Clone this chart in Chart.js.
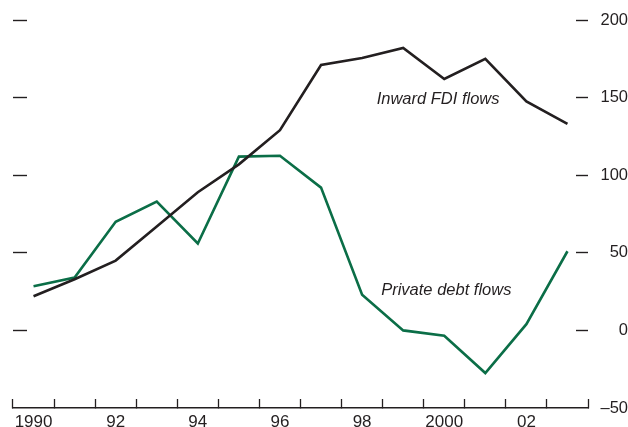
<!DOCTYPE html>
<html>
<head>
<meta charset="utf-8">
<script src="https://cdn.jsdelivr.net/npm/chart.js@4/dist/chart.umd.min.js"></script>
<style>
  html, body { margin: 0; padding: 0; background: #ffffff; }
  #wrap { width: 628px; height: 427px; position: relative; }
</style>
</head>
<body>
<div id="wrap"><canvas id="chart" width="628" height="427"></canvas></div>
<script>
// Years on the horizontal axis
const years = [1990, 1991, 1992, 1993, 1994, 1995, 1996, 1997, 1998, 1999, 2000, 2001, 2002, 2003];

// Inward foreign direct investment flows
const fdiFlows = [22, 33, 45, 67, 89, 107, 129, 171, 175.5, 182, 162, 175, 147.5, 133];

// Private debt flows
const debtFlows = [28.5, 34, 70, 83, 56, 112, 112.5, 92, 23, 0, -3.5, -27.5, 4, 51];

// Value axis ticks
const valueTicks = [-50, 0, 50, 100, 150, 200];

const INK = '#231f20';
const GREEN = '#0b6e47';
const FONT = '"Liberation Sans", Arial, Helvetica, sans-serif';

// Short year labels: full year at 1990 and 2000, two digits otherwise, odd years blank
function yearLabel(y) {
  if (y % 2 !== 0) return '';
  if (y === 1990 || y === 2000) return String(y);
  return String(y % 100).padStart(2, '0');
}

// In-plot series captions, placed in data coordinates
const captions = [
  { text: 'Inward FDI flows', x: 9.85, y: 149 },
  { text: 'Private debt flows', x: 10.05, y: 26 }
];

const captionPlugin = {
  id: 'captions',
  afterDatasetsDraw(chart) {
    const { ctx, scales } = chart;
    ctx.save();
    ctx.font = 'italic 16.5px ' + FONT;
    ctx.fillStyle = INK;
    ctx.textAlign = 'center';
    ctx.textBaseline = 'middle';
    captions.forEach(c => {
      ctx.fillText(c.text, scales.x.getPixelForValue(c.x), scales.y.getPixelForValue(c.y));
    });
    ctx.restore();
  }
};

const hideBottomTick = c => (c.tick && c.tick.value === -50) ? 'rgba(0,0,0,0)' : INK;

// Scales here take no extra room for overhanging labels
function noScalePadding(s) {
  s.paddingTop = 0; s.paddingBottom = 0; s.paddingLeft = 0; s.paddingRight = 0;
}

new Chart(document.getElementById('chart'), {
  type: 'line',
  data: {
    labels: years.map(yearLabel),
    datasets: [
      {
        label: 'Inward FDI flows',
        data: fdiFlows,
        borderColor: INK,
        borderWidth: 2.6,
        pointRadius: 0,
        tension: 0,
        yAxisID: 'y'
      },
      {
        label: 'Private debt flows',
        data: debtFlows,
        borderColor: GREEN,
        borderWidth: 2.6,
        pointRadius: 0,
        tension: 0,
        yAxisID: 'y'
      }
    ]
  },
  options: {
    responsive: false,
    animation: false,
    devicePixelRatio: 1,
    layout: { autoPadding: false, padding: { left: 13, top: 20, right: 0, bottom: 0 } },
    plugins: { legend: { display: false }, tooltip: { enabled: false } },
    scales: {
      x: {
        type: 'category',
        offset: true,
        position: 'bottom',
        grid: { offset: true, drawOnChartArea: false, drawTicks: true, tickLength: -9, tickColor: INK, tickWidth: 1.3 },
        border: { display: true, color: INK, width: 1.4 },
        ticks: { autoSkip: false, maxRotation: 0, color: INK, padding: 13, font: { family: FONT, size: 17 } },
        afterFit(s) { s.height = 19; noScalePadding(s); }
      },
      yLeft: {
        type: 'linear',
        position: 'left',
        min: -50,
        max: 200,
        afterBuildTicks(s) { s.ticks = valueTicks.map(v => ({ value: v })); },
        grid: { drawOnChartArea: false, drawTicks: true, tickLength: -14, tickColor: hideBottomTick, tickWidth: 1.4 },
        border: { display: false },
        ticks: { display: false },
        afterFit(s) { s.width = 0; noScalePadding(s); }
      },
      y: {
        type: 'linear',
        position: 'right',
        min: -50,
        max: 200,
        afterBuildTicks(s) { s.ticks = valueTicks.map(v => ({ value: v })); },
        grid: { drawOnChartArea: false, drawTicks: true, tickLength: -12, tickColor: hideBottomTick, tickWidth: 1.4 },
        border: { display: false },
        ticks: {
          color: INK,
          crossAlign: 'far',
          padding: 20.5,
          font: { family: FONT, size: 16.5 },
          callback: v => v < 0 ? '\u2013' + Math.abs(v) : String(v)
        },
        afterFit(s) { s.width = 40; noScalePadding(s); }
      }
    }
  },
  plugins: [captionPlugin]
});
</script>
</body>
</html>
